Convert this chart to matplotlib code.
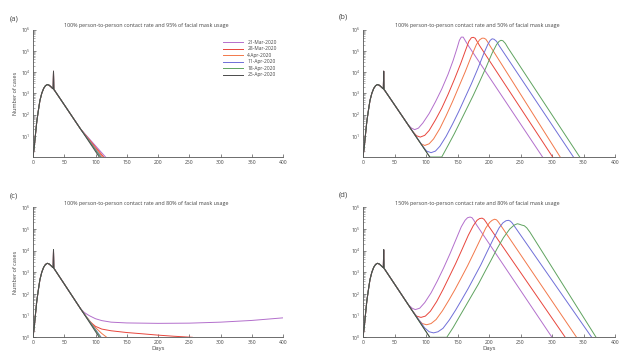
import matplotlib
matplotlib.use("Agg")
import matplotlib.pyplot as plt
from matplotlib.ticker import LogLocator, FixedLocator, NullFormatter
import numpy as np

plt.rcParams['font.family'] = ['Open Sans', 'DejaVu Sans']

# ---------------- data ----------------
series_labels = ['21-Mar-2020', '28-Mar-2020', '4-Apr-2020', '11-Apr-2020', '18-Apr-2020', '25-Apr-2020']
series_colors = ['#b36fcc', '#e8453c', '#f2784a', '#6f6fd8', '#5fa35f', '#4a4a4a']

panel_letters = ['(a)', '(b)', '(c)', '(d)']
panel_titles = [
    '100% person-to-person contact rate and 95% of facial mask usage',
    '100% person-to-person contact rate and 50% of facial mask usage',
    '100% person-to-person contact rate and 80% of facial mask usage',
    '150% person-to-person contact rate and 80% of facial mask usage',
]

# shared early epidemic curve (black)
base_days = [0, 2, 4, 6, 8, 11, 14, 17, 20, 23, 26, 29, 31.5, 32.3, 32.8, 33.3, 34, 50, 76, 106]
base_vals = [1, 3, 12, 45, 120, 450, 1000, 1700, 2300, 2600, 2400, 2000, 1700, 1650, 11000, 1500, 1450, 290, 21, 1]

# panel (a): 95% masks
a_days = [[76, 116], [76, 113], [76, 111], [76, 109], [76, 108]]
a_vals = [[21, 1], [21, 1], [21, 1], [21, 1], [21, 1]]

# panel (b): 50% masks
b_days = [
    [72, 77, 82, 88, 95, 105, 115, 125, 135, 143, 149, 153, 156, 159, 162, 166, 285],
    [79, 85, 91, 98, 105, 115, 125, 135, 145, 155, 163, 168, 172, 175, 178, 181, 185, 301],
    [87, 92, 98, 105, 112, 122, 132, 142, 152, 162, 172, 180, 185, 189, 192, 195, 198, 202, 313],
    [95, 101, 108, 115, 122, 132, 142, 152, 162, 172, 182, 192, 198, 202, 205, 208, 212, 216, 334],
    [125, 135, 145, 155, 165, 175, 185, 195, 205, 212, 216, 219, 222, 226, 230, 344],
]
b_vals = [
    [32, 23, 19.5, 23, 40, 112, 400, 1600, 7900, 35000, 126000, 316000, 447000, 447000, 316000, 200000, 1],
    [16, 10, 8.7, 10.5, 17.8, 56, 200, 890, 4500, 25000, 112000, 282000, 417000, 437000, 398000, 282000, 178000, 1],
    [6.8, 4.2, 3.5, 4.2, 7.1, 22, 89, 400, 2000, 10000, 56000, 200000, 331000, 398000, 398000, 355000, 263000, 166000, 1],
    [3.2, 1.9, 1.6, 1.9, 3.2, 9.5, 35, 140, 630, 2800, 14000, 79000, 200000, 316000, 372000, 355000, 282000, 178000, 1],
    [1, 3.5, 12.6, 50, 200, 800, 3500, 16000, 79000, 200000, 282000, 316000, 302000, 224000, 141000, 1],
]

# panel (c): 80% masks
c_days = [
    [76, 82, 90, 100, 110, 125, 150, 200, 250, 300, 350, 400],
    [76, 85, 92, 100, 110, 125, 150, 175, 200, 225, 255],
    [76, 90, 100, 110, 118],
    [76, 109],
    [76, 108],
]
c_vals = [
    [21, 14, 10, 7.2, 5.9, 5.0, 4.6, 4.4, 4.5, 5.0, 6.0, 7.9],
    [21, 8.9, 5.0, 3.2, 2.4, 2.0, 1.66, 1.45, 1.26, 1.12, 1],
    [21, 6, 2.8, 1.5, 1],
    [21, 1],
    [21, 1],
]

# panel (d): 150% contact, 80% masks
d_days = [
    [72, 78, 83, 90, 98, 108, 118, 128, 138, 148, 156, 162, 166, 170, 173, 176, 180, 300],
    [79, 85, 92, 99, 107, 117, 127, 137, 147, 157, 167, 175, 181, 185, 189, 192, 195, 199, 321],
    [88, 94, 101, 108, 116, 126, 136, 146, 156, 166, 176, 186, 195, 201, 205, 209, 212, 215, 219, 339],
    [98, 105, 112, 119, 127, 137, 147, 157, 167, 177, 187, 197, 207, 216, 222, 227, 231, 234, 237, 241, 363],
    [133, 143, 153, 163, 173, 183, 193, 203, 213, 223, 233, 240, 245, 248, 252, 256, 260, 265, 370],
]
d_vals = [
    [32, 22, 19, 22, 40, 112, 400, 1600, 7100, 35000, 126000, 251000, 331000, 355000, 331000, 251000, 158000, 1],
    [16, 9.5, 8.3, 9.5, 16, 45, 160, 630, 2500, 11000, 50000, 141000, 251000, 302000, 316000, 282000, 214000, 141000, 1],
    [6.6, 4.3, 3.8, 4.3, 6.6, 16.6, 50, 160, 560, 2000, 7900, 32000, 112000, 200000, 251000, 282000, 263000, 209000, 141000, 1],
    [2.7, 1.8, 1.6, 1.8, 2.6, 6.3, 18, 56, 180, 630, 2200, 8900, 35000, 112000, 191000, 240000, 251000, 229000, 186000, 126000, 1],
    [1, 2.8, 8.9, 28, 89, 280, 1000, 3500, 12600, 40000, 100000, 151000, 174000, 166000, 151000, 141000, 112000, 71000, 1],
]

x_ticks = [0, 50, 100, 150, 200, 250, 300, 350, 400]
y_ticks_top = [10, 100, 1e3, 1e4, 1e5, 1e6]
y_ticks_bottom = [1, 10, 100, 1e3, 1e4, 1e5, 1e6]

# ---------------- layout ----------------
W, H = 640, 357
fig = plt.figure(figsize=(W / 100, H / 100), dpi=100)
fig.patch.set_facecolor('white')

boxes = [  # left, top, right, bottom in pixels
    (33, 29.7, 283, 157),
    (363, 29.7, 615, 157),
    (33, 207.3, 283, 337.3),
    (363, 207.3, 615, 337.3),
]
letter_pos = [(14, 19), (343, 17), (14, 196), (343, 195)]
panel_days = [a_days, b_days, c_days, d_days]
panel_vals = [a_vals, b_vals, c_vals, d_vals]

txt_col = '#444444'
for i in range(4):
    l, t, r, b = boxes[i]
    ax = fig.add_axes([l / W, 1 - b / H, (r - l) / W, (b - t) / H])
    ax.set_yscale('log')
    for k in range(5):
        d0 = panel_days[i][k][0]
        xs = [d for d in base_days if d < d0] + list(panel_days[i][k])
        ys = [v for d, v in zip(base_days, base_vals) if d < d0] + list(panel_vals[i][k])
        ax.plot(xs, ys, color=series_colors[k], lw=0.7, label=series_labels[k])
    ax.plot(base_days, base_vals, color=series_colors[5], lw=0.7, label=series_labels[5])

    ax.set_xlim(0, 400)
    ax.set_ylim(1, 1e6)
    ax.xaxis.set_major_locator(FixedLocator(x_ticks))
    ax.set_xticklabels([str(v) for v in x_ticks])
    ax.yaxis.set_minor_locator(LogLocator(base=10, subs=np.arange(2, 10), numticks=20))
    ax.yaxis.set_minor_formatter(NullFormatter())
    ax.set_yticks(y_ticks_top if i < 2 else y_ticks_bottom)
    ax.set_ylim(1, 1e6)
    for s in ['top', 'right']:
        ax.spines[s].set_visible(False)
    for s in ['left', 'bottom']:
        ax.spines[s].set_color('#555555')
        ax.spines[s].set_linewidth(0.6)
    ax.tick_params(which='major', direction='in', length=2.5, width=0.5, colors='#555555',
                   labelsize=3.6, labelcolor=txt_col, pad=2)
    ax.tick_params(which='minor', direction='in', length=1.3, width=0.4, colors='#777777')
    ax.set_title(panel_titles[i], fontsize=3.9, color=txt_col, x=0.452, pad=2)
    if i in (0, 2):
        ax.set_ylabel('Number of cases', fontsize=4, color=txt_col, labelpad=2)
    if i >= 2:
        ax.set_xlabel('Days', fontsize=4.2, color=txt_col, labelpad=1)
    fig.text(letter_pos[i][0] / W, 1 - letter_pos[i][1] / H, panel_letters[i],
             fontsize=5.5, color=txt_col, ha='center', va='center')
    if i == 0:
        ax.legend(loc='upper right', bbox_to_anchor=(0.99, 0.95), frameon=False, fontsize=3.5,
                  handlelength=4.2, handletextpad=0.8, labelspacing=0.3, labelcolor=txt_col,
                  borderpad=0.3)

fig.savefig('out.png', dpi=100, facecolor='white')
